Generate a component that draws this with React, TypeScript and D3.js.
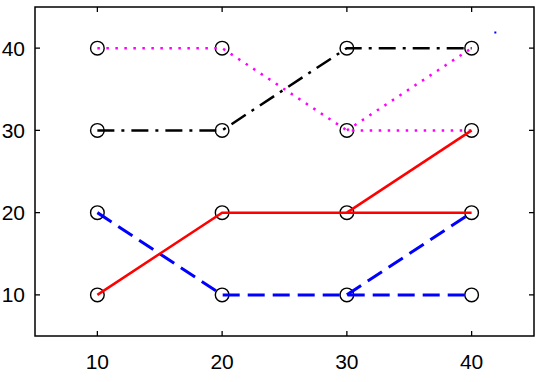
import React, { useEffect, useRef } from 'react'
import * as d3 from 'd3'

const W = 544
const H = 382
const margin = { top: 7, right: 10, bottom: 46, left: 35 }

const xTicks = [10, 20, 30, 40]
const yTicks = [10, 20, 30, 40]

// each series: a main path and a branch leaving from the third point
const redMain = [[10, 10], [20, 20], [30, 20], [40, 20]]
const redBranch = [[30, 20], [40, 30]]
const blueMain = [[10, 20], [20, 10], [30, 10], [40, 10]]
const blueBranch = [[30, 10], [40, 20]]
const blackMain = [[10, 30], [20, 30], [30, 40], [40, 40]]
const magentaMain = [[10, 40], [20, 40], [30, 30], [40, 30]]
const magentaBranch = [[30, 30], [40, 40]]
const strayPoint = [[41.9, 41.9]]

const series = [
  { paths: [magentaMain, magentaBranch], color: '#ff00ff', dash: '2.5,6.5', width: 2.5 },
  { paths: [blackMain], color: '#000000', dash: '17,7,3,7', width: 2.5 },
  { paths: [blueMain, blueBranch], color: '#0000ff', dash: '17,8', width: 3 },
  { paths: [redMain, redBranch], color: '#ff0000', dash: null, width: 2.5 },
]

function drawChart(node: SVGSVGElement) {
  const svg = d3.select(node)
  svg.selectAll('*').remove()

  const x = d3.scaleLinear().domain([5, 45]).range([margin.left, W - margin.right])
  const y = d3.scaleLinear().domain([5, 45]).range([H - margin.bottom, margin.top])

  svg.append('rect').attr('width', W).attr('height', H).style('fill', 'white')

  const line = d3
    .line<number[]>()
    .x(d => x(d[0]))
    .y(d => y(d[1]))

  // markers (drawn under the lines)
  const pts: number[][] = []
  series.forEach(s => s.paths.forEach(p => p.forEach(d => pts.push(d))))
  const seen = new Set<string>()
  const uniq = pts.filter(d => {
    const k = d.join(',')
    if (seen.has(k)) return false
    seen.add(k)
    return true
  })
  svg
    .append('g')
    .selectAll('circle')
    .data(uniq)
    .enter()
    .append('circle')
    .attr('cx', d => x(d[0]))
    .attr('cy', d => y(d[1]))
    .attr('r', 6.8)
    .style('fill', 'none')
    .style('stroke', 'black')
    .style('stroke-width', 1.4)

  series.forEach(s => {
    s.paths.forEach(p => {
      svg
        .append('path')
        .attr('d', line(p))
        .style('fill', 'none')
        .style('stroke', s.color)
        .style('stroke-width', s.width)
        .style('stroke-dasharray', s.dash ? s.dash : null)
    })
  })

  svg
    .selectAll('.stray')
    .data(strayPoint)
    .enter()
    .append('rect')
    .classed('stray', true)
    .attr('x', d => x(d[0]) - 1)
    .attr('y', d => y(d[1]) - 1)
    .attr('width', 2)
    .attr('height', 2)
    .style('fill', '#0000ff')

  // box with inward ticks on all sides
  const x0 = x(5), x1 = x(45), y0 = y(5), y1 = y(45)
  svg
    .append('rect')
    .attr('x', x0)
    .attr('y', y1)
    .attr('width', x1 - x0)
    .attr('height', y0 - y1)
    .style('fill', 'none')
    .style('stroke', 'black')
    .style('stroke-width', 1.5)

  const ticks = svg.append('g').style('stroke', 'black').style('stroke-width', 1.3)
  xTicks.forEach(t => {
    ticks.append('line').attr('x1', x(t)).attr('x2', x(t)).attr('y1', y0).attr('y2', y0 - 5)
    ticks.append('line').attr('x1', x(t)).attr('x2', x(t)).attr('y1', y1).attr('y2', y1 + 5)
  })
  yTicks.forEach(t => {
    ticks.append('line').attr('x1', x0).attr('x2', x0 + 5).attr('y1', y(t)).attr('y2', y(t))
    ticks.append('line').attr('x1', x1).attr('x2', x1 - 5).attr('y1', y(t)).attr('y2', y(t))
  })

  const font = '"Liberation Sans", Arial, sans-serif'
  svg
    .append('g')
    .selectAll('text')
    .data(xTicks)
    .enter()
    .append('text')
    .attr('x', d => x(d))
    .attr('y', y0 + 18)
    .attr('text-anchor', 'middle')
    .attr('dy', '0.72em')
    .style('font-family', font)
    .style('font-size', '21px')
    .text(d => d)

  svg
    .append('g')
    .selectAll('text')
    .data(yTicks)
    .enter()
    .append('text')
    .attr('x', 25)
    .attr('y', d => y(d))
    .attr('text-anchor', 'end')
    .attr('dominant-baseline', 'central')
    .style('font-family', font)
    .style('font-size', '21px')
    .text(d => d)
}

export default function App() {
  const ref = useRef<SVGSVGElement>(null)
  useEffect(() => {
    if (ref.current) drawChart(ref.current)
  }, [])
  return (
    <svg
      ref={ref}
      width={W}
      height={H}
      style={{ position: 'absolute', left: 0, top: 0, display: 'block' }}
    />
  )
}
